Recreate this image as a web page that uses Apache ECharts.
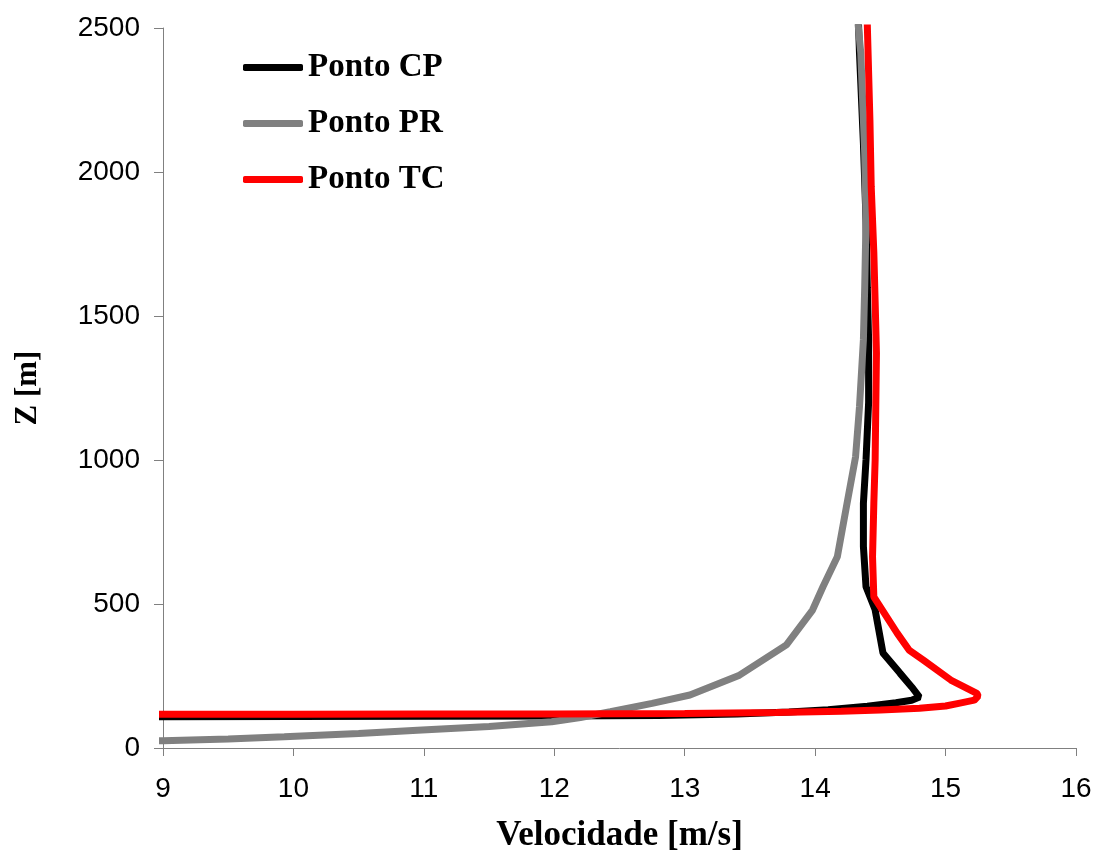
<!DOCTYPE html>
<html>
<head>
<meta charset="utf-8">
<script src="https://cdn.jsdelivr.net/npm/echarts@6/dist/echarts.min.js"></script>
<style>
html,body{margin:0;padding:0;background:#fff;}
#chart{width:1096px;height:852px;}
</style>
</head>
<body>
<div id="chart"></div>
<script>
// Ponto CP
const cpVel = [8.5, 10, 11, 12, 12.8, 13.4, 13.8, 14.1, 14.4, 14.62, 14.74, 14.80, 14.74, 14.65, 14.52, 14.46, 14.39, 14.37, 14.37, 14.39, 14.41, 14.41, 14.40, 14.39, 14.37, 14.34, 14.33];
const cpZ   = [108, 109, 110, 111, 113, 118, 125, 133, 145, 157, 166, 177, 212, 260, 330, 480, 560, 700, 850, 1000, 1200, 1417, 1600, 1833, 2100, 2413, 2550];
// Ponto PR
const prVel = [8.5, 9.0, 9.5, 9.93, 10.5, 10.95, 11.5, 11.98, 12.2, 12.43, 12.75, 13.04, 13.42, 13.78, 13.98, 14.06, 14.17, 14.24, 14.31, 14.34, 14.37, 14.38, 14.39, 14.38, 14.35, 14.33, 14.31];
const prZ   = [22, 25, 31, 39, 50, 62, 75, 91, 106, 126, 155, 184, 253, 358, 479, 560, 664, 838, 1011, 1185, 1417, 1600, 1833, 2066, 2413, 2510, 2560];
// Ponto TC
const tcVel = [8.5, 10, 11, 12, 13, 13.7, 14.2, 14.5, 14.8, 15.0, 15.11, 15.22, 15.25, 15.24, 15.04, 14.83, 14.72, 14.63, 14.45, 14.44, 14.45, 14.46, 14.47, 14.46, 14.45, 14.43, 14.42, 14.40, 14.40];
const tcZ   = [117, 117, 118, 118, 120, 123, 128, 132, 138, 146, 156, 166, 180, 190, 236, 305, 340, 398, 525, 664, 850, 1000, 1371, 1550, 1719, 1948, 2180, 2510, 2550];

const xTicks = {min: 9, max: 16, interval: 1};
const yTicks = {min: 0, max: 2500, interval: 500};

function pairs(xs, ys){ return xs.map((v,i)=>[v, ys[i]]); }

const chart = echarts.init(document.getElementById('chart'), null, {renderer:'canvas'});
const axisColor = '#808080';
const serif = '"Liberation Serif","Times New Roman",serif';
const sans = '"Liberation Sans",Arial,sans-serif';

chart.setOption({
  animation: false,
  backgroundColor: '#fff',
  grid: {left: 163, right: 20, top: 28, bottom: 104, containLabel: false, outerBoundsMode: 'none'},
  legend: {
    orient: 'vertical',
    left: 238, top: 46,
    itemWidth: 60, itemHeight: 7, itemGap: 23,
    icon: 'roundRect',
    textStyle: {fontFamily: serif, fontWeight: 'bold', fontSize: 33, color: '#000'},
    data: ['Ponto CP', 'Ponto PR', 'Ponto TC']
  },
  xAxis: {
    type: 'value', min: xTicks.min, max: xTicks.max, interval: xTicks.interval,
    name: 'Velocidade [m/s]', nameLocation: 'middle', nameGap: 70,
    nameTextStyle: {fontFamily: serif, fontWeight: 'bold', fontSize: 35, color: '#000'},
    axisLine: {show: true, lineStyle: {color: axisColor, width: 1}},
    axisTick: {show: true, inside: false, length: 8, lineStyle: {color: axisColor}},
    axisLabel: {fontFamily: sans, fontSize: 28, color: '#000', margin: 27,
                formatter: v => String(v)},
    splitLine: {show: false}
  },
  yAxis: {
    type: 'value', min: yTicks.min, max: yTicks.max, interval: yTicks.interval,
    name: 'Z [m]', nameLocation: 'middle', nameGap: 120, nameRotate: 90,
    nameTextStyle: {fontFamily: serif, fontWeight: 'bold', fontSize: 31, color: '#000'},
    axisLine: {show: true, lineStyle: {color: axisColor, width: 1}},
    axisTick: {show: true, inside: false, length: 9, lineStyle: {color: axisColor}},
    axisLabel: {fontFamily: sans, fontSize: 28, color: '#000', margin: 23,
                formatter: v => String(v)},
    splitLine: {show: false}
  },
  series: [
    {name: 'Ponto CP', type: 'line', data: pairs(cpVel, cpZ), showSymbol: false, clip: true,
     itemStyle: {color: '#000000'}, lineStyle: {color: '#000000', width: 7}},
    {name: 'Ponto PR', type: 'line', data: pairs(prVel, prZ), showSymbol: false, clip: true,
     itemStyle: {color: '#808080'}, lineStyle: {color: '#808080', width: 7}},
    {name: 'Ponto TC', type: 'line', data: pairs(tcVel, tcZ), showSymbol: false, clip: true,
     itemStyle: {color: '#ff0000'}, lineStyle: {color: '#ff0000', width: 7}}
  ]
});
</script>
</body>
</html>
